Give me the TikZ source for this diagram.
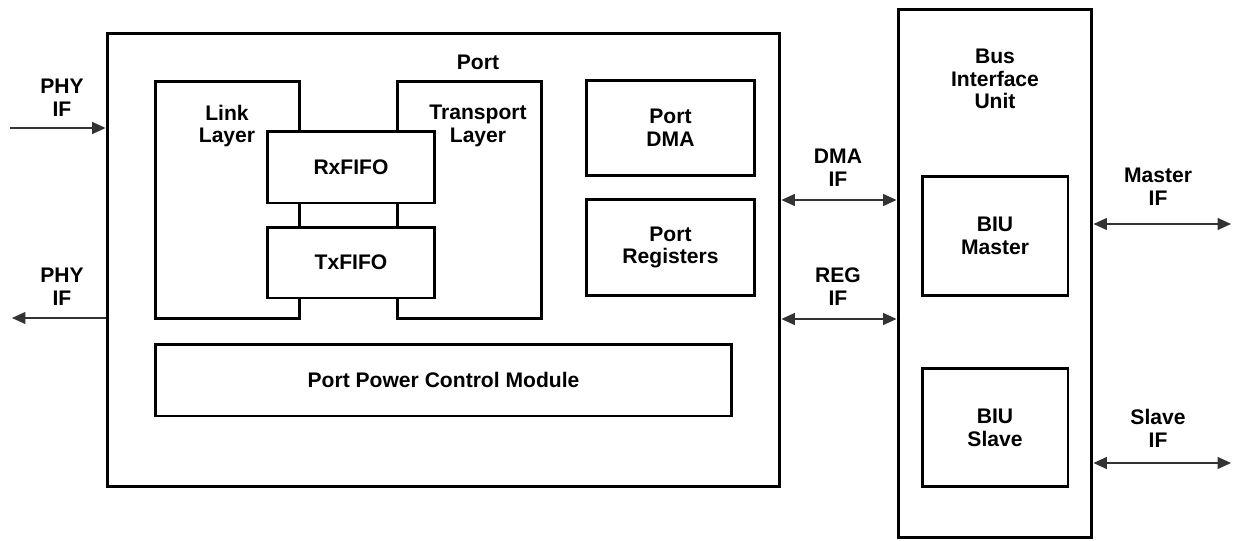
\documentclass[tikz,border=0pt]{standalone}
\usepackage{fontspec}
\setmainfont{Liberation Sans}
\usetikzlibrary{arrows.meta,positioning}

\begin{document}
\begin{tikzpicture}[
  x=0.02cm, y=-0.02cm,
  box/.style={rectangle, draw, fill=white, line width=1.7pt, inner sep=0pt},
  txt/.style={align=center, inner sep=0pt, font=\bfseries\fontsize{12}{13}\selectfont},
  sig/.style={draw=black!80, line width=0.8pt, -{Triangle[length=0.27cm,width=0.24cm]}},
  bisig/.style={sig, {Triangle[length=0.27cm,width=0.24cm]}-{Triangle[length=0.27cm,width=0.24cm]}}
]
\useasboundingbox (0,0) rectangle (1235,541);

% outer blocks
\node[box, minimum width=13.46cm, minimum height=9.08cm] (port) at (443.5,260) {};
\node[box, minimum width=3.88cm, minimum height=10.58cm] (biu) at (995,273.5) {};

% port internals
\node[box, minimum width=2.9cm, minimum height=4.76cm] (link) at (227.5,200) {};
\node[box, minimum width=2.9cm, minimum height=4.76cm] (transport) at (469.5,200) {};
\node[box, minimum width=3.36cm, minimum height=1.44cm] (rxfifo) at (351,167) {};
\node[box, minimum width=3.36cm, minimum height=1.42cm] (txfifo) at (351,262.5) {};
\node[box, minimum width=3.38cm, minimum height=1.92cm] (portdma) at (670.5,128) {};
\node[box, minimum width=3.38cm, minimum height=1.94cm] (portregs) at (670.5,247.5) {};
\node[box, minimum width=11.54cm, minimum height=1.44cm] (ppcm) at (443.5,380) {};

% biu internals
\node[box, minimum width=2.92cm, minimum height=2.4cm] (biumaster) at (995,236) {};
\node[box, minimum width=2.92cm, minimum height=2.38cm] (biuslave) at (995,427.5) {};

% texts
\node[txt] (portlbl) at (478,62) {Port};
\node[txt] (linklbl) at (227,126) {Link\\Layer};
\node[txt] (transportlbl) at (478,126) {Transport\\Layer};
\node[txt] at (rxfifo) {RxFIFO};
\node[txt] at (txfifo) {TxFIFO};
\node[txt] at (portdma) {Port\\DMA};
\node[txt] at (portregs) {Port\\Registers};
\node[txt] at (ppcm) {Port Power Control Module};
\node[txt] (biulbl) at (995,79) {Bus\\Interface\\Unit};
\node[txt] at (biumaster) {BIU\\Master};
\node[txt] at (biuslave) {BIU\\Slave};

% interfaces
\coordinate (phyin) at (10,128);
\coordinate (phyout) at (12,318);
\coordinate (dmaif) at (838,200);
\coordinate (regif) at (838,319);
\coordinate (masterif) at (1231,224);
\coordinate (slaveif) at (1231,463);

\draw[sig] (phyin) -- (phyin -| port.west);
\draw[sig] (phyout -| port.west) -- (phyout);
\draw[bisig] (dmaif -| port.east) -- (dmaif -| biu.west);
\draw[bisig] (regif -| port.east) -- (regif -| biu.west);
\draw[bisig] (masterif -| biu.east) -- (masterif);
\draw[bisig] (slaveif -| biu.east) -- (slaveif);

\node[txt] (phyinlbl) at (62,98) {PHY\\IF};
\node[txt] (phyoutlbl) at (62,287) {PHY\\IF};
\node[txt] (dmaiflbl) at (838,168) {DMA\\IF};
\node[txt] (regiflbl) at (838,287) {REG\\IF};
\node[txt] (masteriflbl) at (1158,187) {Master\\IF};
\node[txt] (slaveiflbl) at (1158,428) {Slave\\IF};

\end{tikzpicture}
\end{document}
